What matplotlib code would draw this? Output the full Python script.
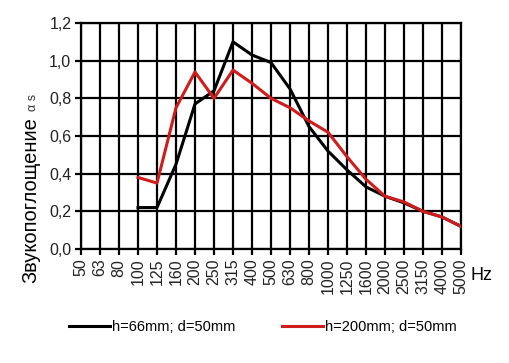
import matplotlib.pyplot as plt
import numpy as np

plt.rcParams['font.family'] = ['Liberation Sans', 'DejaVu Sans']

freqs = ["50", "63", "80", "100", "125", "160", "200", "250", "315", "400", "500",
         "630", "800", "1000", "1250", "1600", "2000", "2500", "3150", "4000", "5000"]
# first value starts at 100 Hz
h66 = [0.22, 0.22, 0.45, 0.77, 0.84, 1.10, 1.03, 0.99, 0.85, 0.65, 0.52,
       0.42, 0.33, 0.28, 0.245, 0.20, 0.17, 0.12]
h200 = [0.38, 0.35, 0.75, 0.94, 0.80, 0.95, 0.88, 0.80, 0.75, 0.68, 0.62,
        0.49, 0.37, 0.28, 0.25, 0.20, 0.17, 0.12]
yticks = [0.0, 0.2, 0.4, 0.6, 0.8, 1.0, 1.2]

fig = plt.figure(figsize=(5.09, 3.63), dpi=100)
ax = fig.add_axes([81 / 509, 1 - 249 / 363, 380 / 509, 226 / 363])

x = np.arange(len(freqs))
start = freqs.index("100")
ax.plot(x[start:], h66, color="black", lw=2.2, label="h=66mm; d=50mm", zorder=3)
ax.plot(x[start:], h200, color="#d01c1c", lw=2.2, label="h=200mm; d=50mm", zorder=3)

ax.set_xlim(0, len(freqs) - 1)
ax.set_ylim(0, 1.2)
ax.set_xticks(x)
ax.set_xticklabels(freqs, rotation=90, fontsize=11.5, color="#222222")
ax.set_yticks(yticks)
ax.set_yticklabels([f"{v:.1f}".replace(".", ",") for v in yticks], fontsize=11.5, color="#222222")
ax.grid(True, color="black", lw=1.6)
for s in ax.spines.values():
    s.set_linewidth(1.6)
ax.tick_params(length=4, width=1.6, pad=3)

fig.text(470 / 509, 1 - 276 / 363, "Hz", fontsize=13, va="center", ha="left")
fig.text(31 / 509, 1 - 283 / 363, "Звукопоглощение", rotation=90, fontsize=14.5,
         ha="center", va="bottom")
fig.text(33 / 509, 1 - 111 / 363, "α s", rotation=90, fontsize=9,
         ha="center", va="bottom", color="#333333")

handles, labels = ax.get_legend_handles_labels()
fig.legend(handles, labels, loc="center", bbox_to_anchor=(263 / 509, 1 - 327 / 363),
           ncol=2, frameon=False, fontsize=10.5, handlelength=2.8, columnspacing=3.2,
           handletextpad=0.15)

fig.savefig("out.png", dpi=100)
